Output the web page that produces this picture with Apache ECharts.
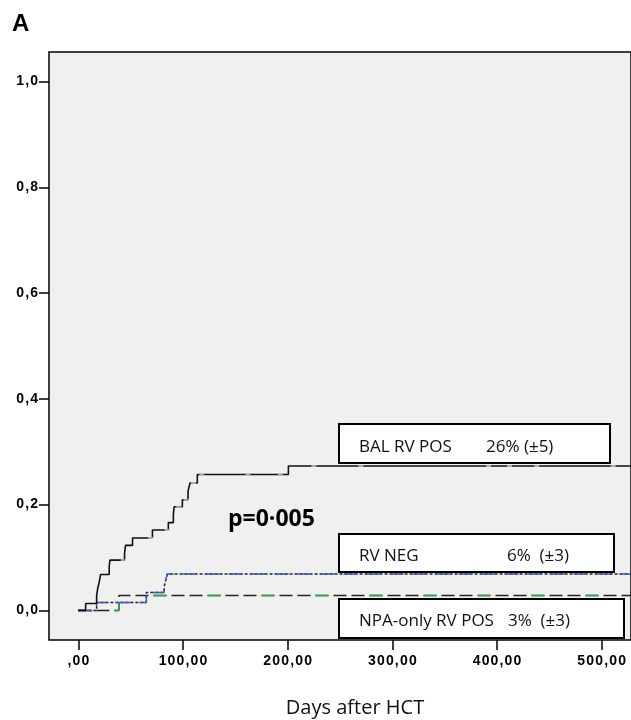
<!DOCTYPE html>
<html>
<head>
<meta charset="utf-8">
<script src="https://cdn.jsdelivr.net/npm/echarts@6/dist/echarts.min.js"></script>
<style>html,body{margin:0;padding:0;background:#fff;}#c{width:631px;height:720px;}</style>
</head>
<body>
<div id="c"></div>
<script>
// ---- data (days after HCT, cumulative incidence) ----
const xTicks = [0, 100, 200, 300, 400, 500];
const yTicks = [0, 0.2, 0.4, 0.6, 0.8, 1.0];
const balRvPos = [[0,0],[7,0.013],[17.5,0.028],[18.5,0.041],[20,0.054],[21.3,0.068],[29.5,0.083],[30.2,0.095],[44.2,0.108],[45.1,0.123],[51.8,0.137],[70.8,0.152],[86,0.166],[90.8,0.181],[91.5,0.196],[99.4,0.209],[104.8,0.225],[106.7,0.241],[113.7,0.257],[200.7,0.273],[540,0.273]];
const balCensor = [[43,0.095],[69,0.137],[85,0.152],[96,0.196],[103,0.209],[110,0.241],[118,0.257],[162,0.257],[193,0.257],[225,0.273],[270,0.273],[392,0.273],[412,0.273],[438,0.273],[511,0.273]];
const rvNeg = [[0,0],[17.5,0.015],[65,0.034],[82,0.045],[83.5,0.057],[85,0.069],[540,0.069]];
const npaOnly = [[0,0],[38.8,0.028],[540,0.028]];
const legendRows = [
  {name: 'BAL RV POS', value: '26% (±5)'},
  {name: 'RV NEG', value: '6%  (±3)'},
  {name: 'NPA-only RV POS', value: '3%  (±3)'}
];
const pText = 'p=0·005';
const xName = 'Days after HCT';
const panel = 'A';

const spaced = s => s.split('').join('\u200A');
const chart = echarts.init(document.getElementById('c'), null, {renderer: 'canvas'});

const boxes = [
  {x: 339, y: 424, w: 271, h: 39, vx: 486, ty: 447},
  {x: 339, y: 534, w: 275, h: 38, vx: 507, ty: 556},
  {x: 339, y: 599, w: 285, h: 39, vx: 508, ty: 621}
];
const graphics = [];
legendRows.forEach((r, i) => {
  const b = boxes[i];
  graphics.push({type: 'rect', z: 100, shape: {x: b.x, y: b.y, width: b.w, height: b.h},
    style: {fill: '#fff', stroke: '#000', lineWidth: 2}});
  graphics.push({type: 'text', z: 101, x: 359, y: b.ty,
    style: {text: r.name, font: '17px "Open Sans"', fill: '#111', textVerticalAlign: 'middle'}});
  graphics.push({type: 'text', z: 101, x: b.vx, y: b.ty,
    style: {text: r.value, font: '17px "Open Sans"', fill: '#111', textVerticalAlign: 'middle'}});
});
graphics.push({type: 'text', z: 101, x: 228, y: 519,
  style: {text: pText, font: 'bold 23px "Open Sans"', fill: '#000', textVerticalAlign: 'middle'}});
graphics.push({type: 'text', z: 101, x: 355, y: 708,
  style: {text: xName, font: '20px "Open Sans"', fill: '#111', textAlign: 'center', textVerticalAlign: 'middle'}});
graphics.push({type: 'text', z: 101, x: 12, y: 24,
  style: {text: panel, font: 'bold 24px "Liberation Sans"', fill: '#000', textVerticalAlign: 'middle'}});

chart.setOption({
  animation: false,
  backgroundColor: '#fff',
  grid: {left: 49, top: 52, right: -2, bottom: 80, show: true, backgroundColor: '#f0f0f0', borderColor: '#000', borderWidth: 1.5},
  xAxis: {
    type: 'value', min: -28, max: 528,
    axisLine: {show: false, onZero: false},
    splitLine: {show: false},
    axisTick: {show: true, customValues: xTicks, length: 10, lineStyle: {color: '#000', width: 1.5}},
    axisLabel: {customValues: xTicks, margin: 14, color: '#000', fontFamily: 'Liberation Sans', fontWeight: 'bold', fontSize: 14,
      formatter: v => spaced(v === 0 ? ',00' : v + ',00')}
  },
  yAxis: {
    type: 'value', min: -0.056, max: 1.056,
    axisLine: {show: false, onZero: false},
    splitLine: {show: false},
    axisTick: {show: true, customValues: yTicks, length: 10, lineStyle: {color: '#000', width: 1.5}},
    axisLabel: {customValues: yTicks, margin: 11, color: '#000', fontFamily: 'Liberation Sans', fontWeight: 'bold', fontSize: 14,
      formatter: v => spaced(v.toFixed(1).replace('.', ','))}
  },
  graphic: graphics,
  series: [
    {type: 'line', step: 'end', data: npaOnly, symbol: 'none', lineStyle: {color: '#222', width: 1.5, type: [13, 5]}},
    {type: 'line', step: 'end', data: npaOnly, symbol: 'none', lineStyle: {color: '#2ea84a', width: 1.5, type: [13, 41], dashOffset: 18}},
    {type: 'line', step: 'end', data: rvNeg, symbol: 'none', lineStyle: {color: '#222', width: 1.5, type: [3, 2]}},
    {type: 'line', step: 'end', data: rvNeg, symbol: 'none', lineStyle: {color: '#3a5bb0', width: 1.5, type: [14, 9]}},
    {type: 'line', step: 'end', data: balRvPos, symbol: 'none', lineStyle: {color: '#111', width: 1.6}},
    {type: 'scatter', data: balCensor, symbol: 'rect', symbolSize: [5, 2], itemStyle: {color: '#d2c996'}, z: 5}
  ]
});
</script>
</body>
</html>
